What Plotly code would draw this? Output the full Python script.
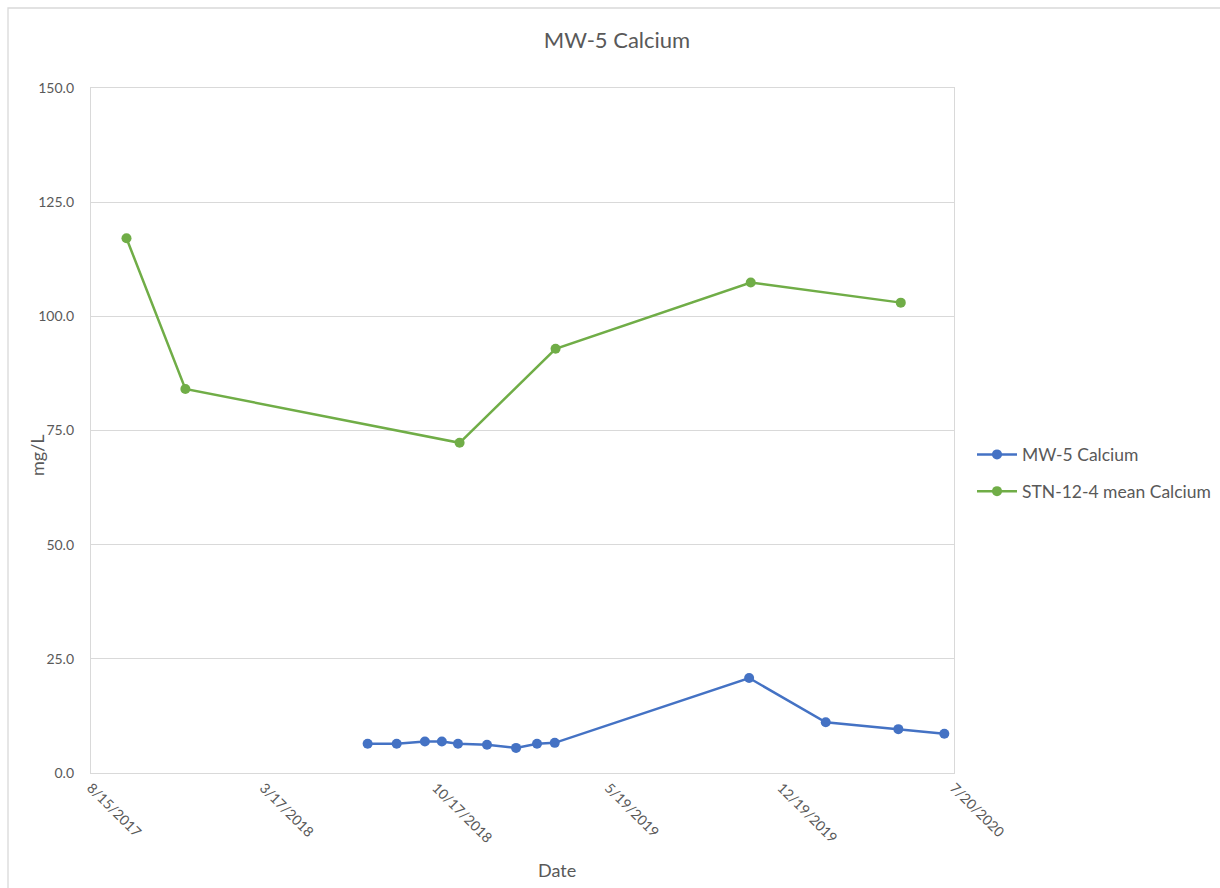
import plotly.graph_objects as go

# MW-5 calcium sampling results
mw5_dates = ["2018-07-24", "2018-08-29", "2018-10-03", "2018-10-24", "2018-11-13",
             "2018-12-19", "2019-01-24", "2019-02-19", "2019-03-13", "2019-11-09",
             "2020-02-12", "2020-05-12", "2020-07-08"]
mw5_values = [6.4, 6.4, 6.9, 6.9, 6.4, 6.2, 5.5, 6.4, 6.6, 20.8, 11.1, 9.6, 8.6]

# STN-12-4 mean calcium
stn_dates = ["2017-09-28", "2017-12-10", "2018-11-15", "2019-03-14", "2019-11-11", "2020-05-15"]
stn_values = [117.1, 84.1, 72.3, 92.9, 107.4, 103.0]

# Axis ticks
x_ticks = ["2017-08-15", "2018-03-17", "2018-10-17", "2019-05-19", "2019-12-19", "2020-07-20"]
x_tick_labels = ["8/15/2017", "3/17/2018", "10/17/2018", "5/19/2019", "12/19/2019", "7/20/2020"]
y_ticks = [0, 25, 50, 75, 100, 125, 150]

W, H = 1220, 888
L, R, T, B = 91, 954, 88, 773
FONT = "Lato, 'Open Sans', sans-serif"
TXT = "#595959"
GRID = "#d9d9d9"


def px_x(p):
    return (p - L) / (R - L)


def px_y(p):
    return (B - p) / (B - T)


fig = go.Figure()
fig.add_trace(go.Scatter(
    x=mw5_dates, y=mw5_values, name="MW-5 Calcium", mode="lines+markers",
    legendgroup="mw5",
    line=dict(color="#4472C4", width=2.5), marker=dict(size=10, color="#4472C4"),
))
fig.add_trace(go.Scatter(
    x=stn_dates, y=stn_values, name="STN-12-4 mean Calcium", mode="lines+markers",
    legendgroup="stn",
    line=dict(color="#70AD47", width=2.5), marker=dict(size=10, color="#70AD47"),
))

fig.update_layout(
    width=W, height=H,
    margin=dict(l=L, r=W - R, t=T, b=H - B, pad=0, autoexpand=False),
    paper_bgcolor="white", plot_bgcolor="white",
    font=dict(family=FONT, color=TXT, size=14),
    title=dict(text="MW-5 Calcium", x=617 / W, xanchor="center", y=1 - 40 / H, yanchor="middle",
               font=dict(size=22, color=TXT, family=FONT)),
    showlegend=True,
    legend=dict(x=px_x(972), xanchor="left", y=px_y(473), yanchor="middle",
                font=dict(size=17.5, color=TXT, family=FONT),
                traceorder="grouped", tracegroupgap=11,
                itemwidth=40, bgcolor="rgba(0,0,0,0)"),
    xaxis=dict(
        type="date", range=[x_ticks[0], x_ticks[-1]],
        tickvals=x_ticks, ticktext=x_tick_labels, tickangle=45,
        tickfont=dict(size=14, color=TXT), showgrid=False,
        showline=True, linecolor=GRID, linewidth=1.3, mirror=True, ticks="",
        zeroline=False,
    ),
    yaxis=dict(
        range=[0, 150], tickvals=y_ticks, tickformat=".1f",
        tickfont=dict(size=14, color=TXT), showgrid=True, gridcolor=GRID, gridwidth=1.3,
        showline=True, linecolor=GRID, linewidth=1.3, mirror=True, ticks="",
        zeroline=False, ticklabelstandoff=13,
    ),
    annotations=[
        dict(text="Date", x=px_x(557), y=px_y(870), xref="paper", yref="paper",
             showarrow=False, font=dict(size=18, color=TXT, family=FONT),
             xanchor="center", yanchor="middle"),
        dict(text="mg/L", x=px_x(37), y=px_y(455), xref="paper", yref="paper",
             showarrow=False, textangle=-90, font=dict(size=18, color=TXT, family=FONT),
             xanchor="center", yanchor="middle"),
    ],
    shapes=[
        dict(type="rect", xref="paper", yref="paper",
             x0=px_x(8), x1=px_x(1240), y0=px_y(900), y1=px_y(8),
             line=dict(color=GRID, width=1.3), layer="below"),
    ],
)

fig.write_html("out.html")
